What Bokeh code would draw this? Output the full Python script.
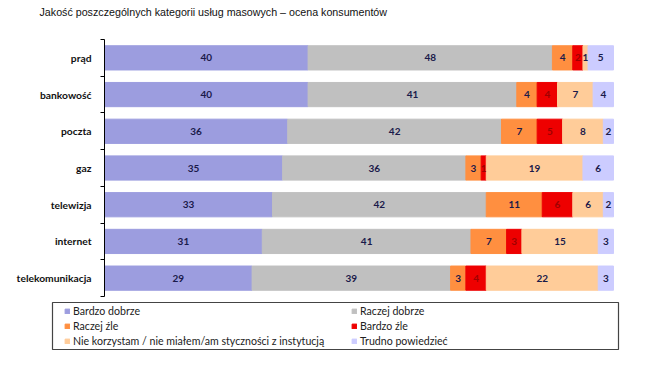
from bokeh.plotting import figure
from bokeh.models import (ColumnDataSource, FixedTicker, Legend, LegendItem, Range1d, Label,
                          BoxAnnotation)
from bokeh.core.properties import value
from bokeh.embed import file_html
from bokeh.resources import INLINE

categories = ["prąd", "bankowość", "poczta", "gaz", "telewizja", "internet", "telekomunikacja"]
series_names = ["Bardzo dobrze", "Raczej dobrze", "Raczej źle", "Bardzo źle",
                "Nie korzystam / nie miałem/am styczności z instytucją", "Trudno powiedzieć"]
bardzo_dobrze = [40, 40, 36, 35, 33, 31, 29]
raczej_dobrze = [48, 41, 42, 36, 42, 41, 39]
raczej_zle = [4, 4, 7, 3, 11, 7, 3]
bardzo_zle = [2, 4, 5, 1, 6, 3, 4]
nie_korzystam = [1, 7, 8, 19, 6, 15, 22]
trudno = [5, 4, 2, 6, 2, 3, 3]
colors = ["#9c9ddf", "#c0c0c0", "#ff8f40", "#ee0000", "#ffcc99", "#ccccff"]
label_colors = ["#1a1a4a", "#1a1a4a", "#1a1a4a", "#a00000", "#1a1a4a", "#1a1a4a"]
title = "Jakość poszczególnych kategorii usług masowych – ocena konsumentów"

series = [bardzo_dobrze, raczej_dobrze, raczej_zle, bardzo_zle, nie_korzystam, trudno]
n = len(categories)
ypos = [n - i - 0.5 for i in range(n)]

# canvas / frame geometry in pixels
W, H = 630, 362
AX_L, AX_R = 104, 613          # x pixel of value 0 and 100
AX_T, AX_B = 39, 296           # y pixel of top and bottom of the category band
ux = (AX_R - AX_L) / 100.0
uy = (AX_B - AX_T) / n
x_range = Range1d(-AX_L / ux, (W - AX_L) / ux)
y_range = Range1d(-(H - AX_B) / uy, n + AX_T / uy)


def px_x(px):
    return (px - AX_L) / ux


def px_y(py):
    return (AX_B - py) / uy


p = figure(width=W, height=H, output_backend="svg", toolbar_location=None,
           x_range=x_range, y_range=y_range,
           min_border_left=0, min_border_right=0, min_border_top=0, min_border_bottom=0)
p.outline_line_color = None
p.xgrid.visible = False
p.ygrid.visible = False
p.xaxis.visible = False

yax = p.yaxis[0]
yax.fixed_location = 0
yax.bounds = (0, n)
yax.ticker = FixedTicker(ticks=ypos, minor_ticks=list(range(n + 1)))
yax.major_label_overrides = {y: c for y, c in zip(ypos, categories)}
yax.major_tick_line_color = None
yax.major_tick_in = 0
yax.major_tick_out = 0
yax.minor_tick_in = 0
yax.minor_tick_out = 4
yax.minor_tick_line_color = "#000000"
yax.axis_line_color = "#000000"
yax.major_label_text_font = "Lato"
yax.major_label_text_font_style = "bold"
yax.major_label_text_font_size = "10.3px"
yax.major_label_text_color = "#111111"
yax.major_label_standoff = 9

items = []
left = [0] * n
lx, ly, lt, lc = [], [], [], []
for k, vals in enumerate(series):
    right = [a + b for a, b in zip(left, vals)]
    src = ColumnDataSource(dict(y=ypos, left=left, right=right))
    r = p.hbar(y="y", left="left", right="right", height=0.66, source=src,
               fill_color=colors[k], line_color=colors[k])
    items.append(LegendItem(label=series_names[k], renderers=[r]))
    for i in range(n):
        lx.append((left[i] + right[i]) / 2)
        ly.append(ypos[i])
        lt.append(str(vals[i]))
        lc.append(label_colors[k])
    left = right

tsrc = ColumnDataSource(dict(x=lx, y=ly, t=lt, c=lc))
p.text(x="x", y="y", text="t", source=tsrc, text_align="center", text_baseline="middle",
       text_font=value("Lato"), text_font_style="bold", text_font_size="10px", text_color="c")

p.add_layout(Label(x=px_x(39), y=px_y(11), text=title,
                   text_font="Liberation Sans", text_font_size="10.7px",
                   text_color="#111111", text_baseline="middle", text_align="left"))

# legend frame
p.add_layout(BoxAnnotation(left=px_x(52), right=px_x(618), top=px_y(302), bottom=px_y(349),
                           fill_color="#ffffff", fill_alpha=1,
                           line_color="#444444", line_width=1.2, line_alpha=1))

legend = Legend(items=items, orientation="horizontal", ncols=2, location=(64, H - 347))
legend.glyph_width = 6
legend.glyph_height = 6
legend.label_height = 13
legend.label_width = 276
legend.label_standoff = 3
legend.spacing = 2
legend.padding = 0
legend.margin = 0
legend.label_text_font = "Lato"
legend.label_text_font_size = "10.6px"
legend.label_text_color = "#222222"
legend.border_line_color = None
legend.background_fill_alpha = 0
p.add_layout(legend, "center")

open("out.html", "w").write(file_html(p, INLINE))
